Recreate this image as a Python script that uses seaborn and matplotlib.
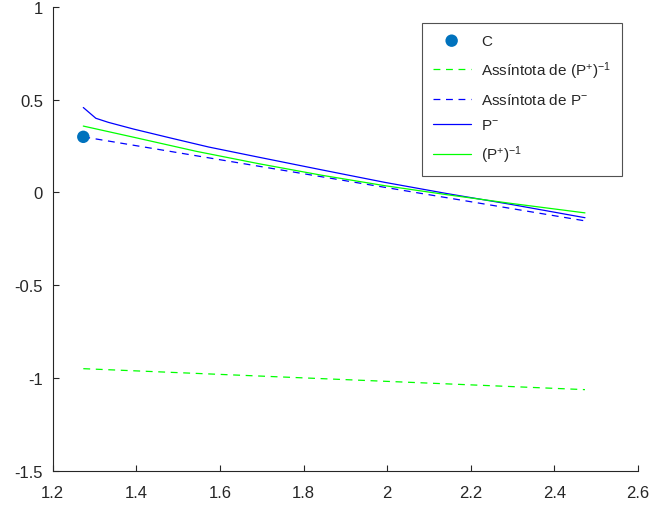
import numpy as np
import pandas as pd
import matplotlib
matplotlib.use("Agg")
import matplotlib.pyplot as plt
import seaborn as sns
from matplotlib.ticker import FormatStrFormatter

# ---- data ----
c_x = [1.2732]
c_y = [0.30]

asym_x = [1.2732, 2.4732]
asym_pinv_y = [-0.950, -1.063]     # Assíntota de (P+)^-1
asym_pminus_y = [0.300, -0.153]    # Assíntota de P-

pminus_x = [1.2732, 1.3032, 1.3332, 1.3932, 1.4832, 1.5732, 1.6932, 1.8432,
            1.9932, 2.1432, 2.2932, 2.4732]
pminus_y = [0.458, 0.400, 0.378, 0.342, 0.293, 0.245, 0.190, 0.122,
            0.055, -0.006, -0.063, -0.136]

pinv_x = [1.2732, 1.3932, 1.5432, 1.6932, 1.8432, 1.9932, 2.1432, 2.2932, 2.4732]
pinv_y = [0.358, 0.298, 0.222, 0.155, 0.093, 0.037, -0.012, -0.058, -0.110]

x_ticks = [1.2, 1.4, 1.6, 1.8, 2.0, 2.2, 2.4, 2.6]
y_ticks = [-1.5, -1, -0.5, 0, 0.5, 1]

labels = ["C", r"Assíntota de (P$^{+}$)$^{-1}$", r"Assíntota de P$^{-}$",
          r"P$^{-}$", r"(P$^{+}$)$^{-1}$"]

# ---- style ----
sns.set_style("ticks")
plt.rcParams["font.family"] = ["Liberation Sans", "DejaVu Sans"]
plt.rcParams["mathtext.fontset"] = "custom"
plt.rcParams["mathtext.rm"] = "Liberation Sans"
plt.rcParams["mathtext.it"] = "Liberation Sans:italic"
plt.rcParams["mathtext.bf"] = "Liberation Sans:bold"
plt.rcParams["axes.unicode_minus"] = False

fig = plt.figure(figsize=(6.53, 5.06), dpi=100)
ax = fig.add_axes([0.0807, 0.0678, 0.8963, 0.9164])

green = "#00ff00"
blue = "#0000ff"

sns.scatterplot(x=c_x, y=c_y, ax=ax, s=80, color="#0072BD", edgecolor="none",
                label=labels[0], zorder=5)
sns.lineplot(x=asym_x, y=asym_pinv_y, ax=ax, color=green, lw=0.9,
             label=labels[1]).lines[-1].set_dashes([5.5, 4.5])
sns.lineplot(x=asym_x, y=asym_pminus_y, ax=ax, color=blue, lw=0.9,
             label=labels[2]).lines[-1].set_dashes([5.5, 4.5])
sns.lineplot(x=pminus_x, y=pminus_y, ax=ax, color=blue, lw=0.9,
             label=labels[3], sort=False)
sns.lineplot(x=pinv_x, y=pinv_y, ax=ax, color=green, lw=0.9,
             label=labels[4], sort=False)

ax.set_xlim(1.2, 2.6)
ax.set_ylim(-1.5, 1)
ax.set_xticks(x_ticks)
ax.set_yticks(y_ticks)
ax.xaxis.set_major_formatter(FormatStrFormatter("%g"))
ax.yaxis.set_major_formatter(FormatStrFormatter("%g"))
ax.tick_params(direction="in", length=4, width=0.8, labelsize=12,
               colors="#262626")
ax.tick_params(axis="x", pad=10)
ax.tick_params(axis="y", pad=7)
for s in ["top", "right"]:
    ax.spines[s].set_visible(False)
for s in ["left", "bottom"]:
    ax.spines[s].set_color("#262626")
    ax.spines[s].set_linewidth(0.8)

leg = ax.legend(loc="upper right", bbox_to_anchor=(0.9727, 0.9655), fontsize=11,
                frameon=True, fancybox=False, handlelength=2.5,
                borderpad=0.7, labelspacing=0.74, handletextpad=0.7,
                borderaxespad=0.0)
leg.get_frame().set_edgecolor("#262626")
leg.get_frame().set_linewidth(0.8)

fig.savefig("out.png", dpi=100)
